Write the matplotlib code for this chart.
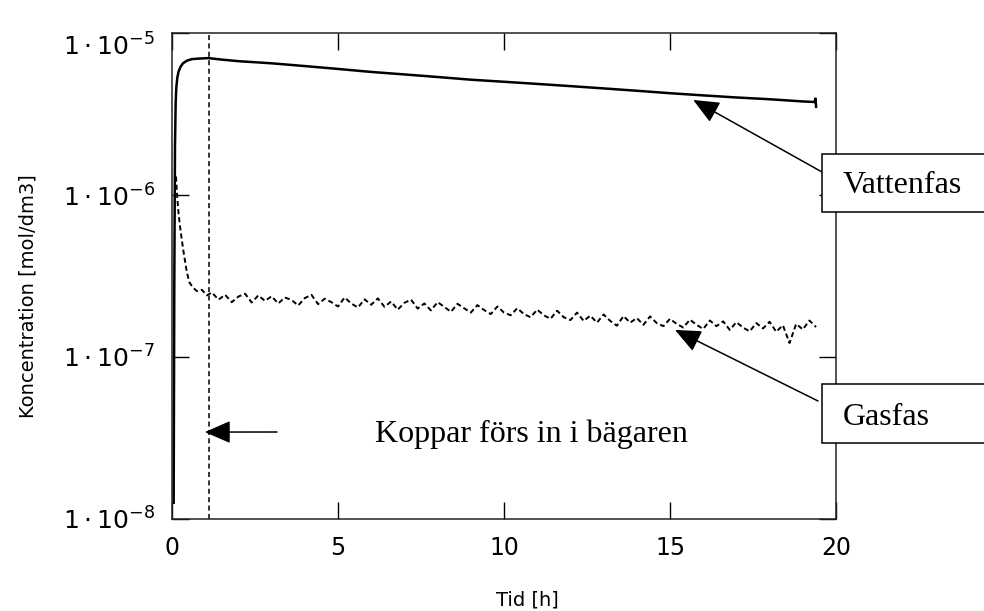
import matplotlib
matplotlib.use("Agg")
import matplotlib.pyplot as plt
from matplotlib.patches import Rectangle
from matplotlib.transforms import ScaledTranslation

# ---------------- data ----------------
water_t = [0.05, 0.07, 0.09, 0.11, 0.13, 0.16, 0.20, 0.26, 0.33, 0.45, 0.60, 0.80, 1.1, 1.5,
           2.0, 3.0, 4.0, 5.0, 6.0, 7.0, 8.0, 9.0, 10.0, 11.0, 12.0, 13.0, 14.0, 15.0,
           16.0, 17.0, 18.0, 19.0, 19.36, 19.38, 19.40]
water_c = [0.0126e-6, 0.3e-6, 2.0e-6, 3.7e-6, 4.6e-6, 5.3e-6, 5.8e-6, 6.2e-6, 6.5e-6, 6.75e-6,
           6.9e-6, 6.95e-6, 7.0e-6, 6.85e-6,
           6.7e-6, 6.5e-6, 6.25e-6, 6.0e-6, 5.75e-6, 5.55e-6, 5.35e-6, 5.15e-6, 5.0e-6,
           4.85e-6, 4.7e-6, 4.55e-6, 4.4e-6, 4.25e-6, 4.12e-6, 4.0e-6, 3.9e-6, 3.78e-6,
           3.75e-6, 3.98e-6, 3.5e-6]

gas_t = [0.12, 0.16, 0.20, 0.25, 0.30, 0.36, 0.44, 0.52, 0.62, 0.75, 0.90, 1.05,
         1.2, 1.4, 1.6, 1.8, 2.0, 2.2, 2.4, 2.6, 2.8, 3.0, 3.2, 3.4, 3.6, 3.8,
         4.0, 4.2, 4.4, 4.6, 4.8, 5.0, 5.2, 5.4, 5.6, 5.8, 6.0, 6.2, 6.4, 6.6, 6.8,
         7.0, 7.2, 7.4, 7.6, 7.8, 8.0, 8.2, 8.4, 8.6, 8.8, 9.0, 9.2, 9.4, 9.6, 9.8,
         10.0, 10.2, 10.4, 10.6, 10.8, 11.0, 11.2, 11.4, 11.6, 11.8, 12.0, 12.2, 12.4,
         12.6, 12.8, 13.0, 13.2, 13.4, 13.6, 13.8, 14.0, 14.2, 14.4, 14.6, 14.8, 15.0,
         15.2, 15.4, 15.6, 15.8, 16.0, 16.2, 16.4, 16.6, 16.8, 17.0, 17.2, 17.4, 17.6,
         17.8, 18.0, 18.2, 18.4, 18.6, 18.8, 19.0, 19.2, 19.4]
gas_c_e7 = [13.0, 9.5, 7.6, 6.2, 5.2, 4.3, 3.4, 2.9, 2.7, 2.55, 2.6, 2.4,
            2.50, 2.26, 2.42, 2.18, 2.36, 2.46, 2.17, 2.40, 2.22, 2.37, 2.14, 2.33, 2.25, 2.08,
            2.31, 2.42, 2.12, 2.29, 2.18, 2.05, 2.33, 2.14, 2.02, 2.27, 2.10, 2.30, 2.04, 2.20, 1.96,
            2.16, 2.26, 1.99, 2.14, 1.94, 2.18, 2.04, 1.90, 2.13, 2.00, 1.88, 2.09, 1.95, 1.84, 2.05,
            1.88, 1.81, 2.00, 1.84, 1.76, 1.96, 1.81, 1.72, 1.93, 1.76, 1.69, 1.88, 1.67,
            1.80, 1.63, 1.83, 1.67, 1.56, 1.79, 1.63, 1.74, 1.58, 1.78, 1.62, 1.55, 1.72,
            1.60, 1.52, 1.70, 1.58, 1.49, 1.68, 1.55, 1.66, 1.47, 1.64, 1.52, 1.44, 1.62,
            1.50, 1.65, 1.43, 1.57, 1.22, 1.60, 1.48, 1.68, 1.53]
gas_c = [v * 1e-7 for v in gas_c_e7]

copper_time = 1.1

x_ticks = [0, 5, 10, 15, 20]
y_ticks = [1e-8, 1e-7, 1e-6, 1e-5]
y_tick_labels = [r"$1\cdot10^{-8}$", r"$1\cdot10^{-7}$", r"$1\cdot10^{-6}$", r"$1\cdot10^{-5}$"]

# ---------------- figure ----------------
W, H = 984, 611
plt.rcParams["mathtext.fontset"] = "dejavusans"
fig = plt.figure(figsize=(W / 100, H / 100), dpi=100)
fig.patch.set_facecolor("white")

L, R, T, B = 172, 836, 33, 519
ax = fig.add_axes([L / W, 1 - B / H, (R - L) / W, (B - T) / H])

ax.plot(water_t, water_c, color="black", lw=1.8, solid_joinstyle="miter")
ax.plot(gas_t, gas_c, color="black", lw=1.4, ls=(0, (2.6, 1.6)))
ax.axvline(copper_time, color="black", lw=1.1, ls=(0, (3.3, 2.2)))

ax.set_yscale("log")
ax.set_xlim(0, 20)
ax.set_ylim(1e-8, 1e-5)
ax.set_xticks(x_ticks)
ax.set_xticklabels([str(v) for v in x_ticks])
ax.set_yticks(y_ticks)
ax.set_yticklabels(y_tick_labels)
ax.minorticks_off()
ax.tick_params(axis="both", which="major", direction="in", length=12, width=1.0,
               top=True, right=True, colors="black")
ax.tick_params(axis="x", pad=12, labelsize=17)
ax.tick_params(axis="y", pad=12, labelsize=18)
for s in ax.spines.values():
    s.set_linewidth(1.1)
    s.set_color("#222222")

# top label sits a little lower in the reference
top_lab = ax.get_yticklabels()[-1]
top_lab.set_transform(top_lab.get_transform() + ScaledTranslation(0, -8 / 72, fig.dpi_scale_trans))

# axis titles
fig.text(28 / W, 1 - 296 / H, "Koncentration [mol/dm3]", rotation=90,
         ha="center", va="center", fontsize=14, family="DejaVu Sans")
fig.text(527 / W, 1 - 600 / H, "Tid [h]", ha="center", va="center",
         fontsize=14, family="DejaVu Sans")

serif = "Liberation Serif"

# boxes with labels
for top, bot, label, base in [(154, 212, "Vattenfas", 193), (384, 443, "Gasfas", 425)]:
    rect = Rectangle((822 / W, 1 - bot / H), 200 / W, (bot - top) / H,
                     transform=fig.transFigure, facecolor="white",
                     edgecolor="black", lw=1.1, zorder=10, clip_on=False)
    fig.patches.append(rect)
    fig.text(843 / W, 1 - base / H, label, ha="left", va="baseline",
             fontsize=23, family=serif, zorder=11)

arrow_kw = dict(arrowstyle="-|>,head_length=0.8,head_width=0.35", color="black",
                lw=1.1, shrinkA=0, shrinkB=0, mutation_scale=20)

ax.annotate("", xy=(15.7, 3.86e-6), xycoords="data",
            xytext=(822, H - 172), textcoords="figure pixels",
            arrowprops=arrow_kw, annotation_clip=False)
ax.annotate("", xy=(15.15, 1.47e-7), xycoords="data",
            xytext=(818, H - 401), textcoords="figure pixels",
            arrowprops=arrow_kw, annotation_clip=False)
ax.annotate("", xy=(0.99, 3.44e-8), xycoords="data",
            xytext=(277, H - 432), textcoords="figure pixels",
            arrowprops=arrow_kw, annotation_clip=False)

fig.text(375 / W, 1 - 442 / H, "Koppar förs in i bägaren", ha="left", va="baseline",
         fontsize=23, family=serif)

fig.savefig("out.png", dpi=100, facecolor="white")
